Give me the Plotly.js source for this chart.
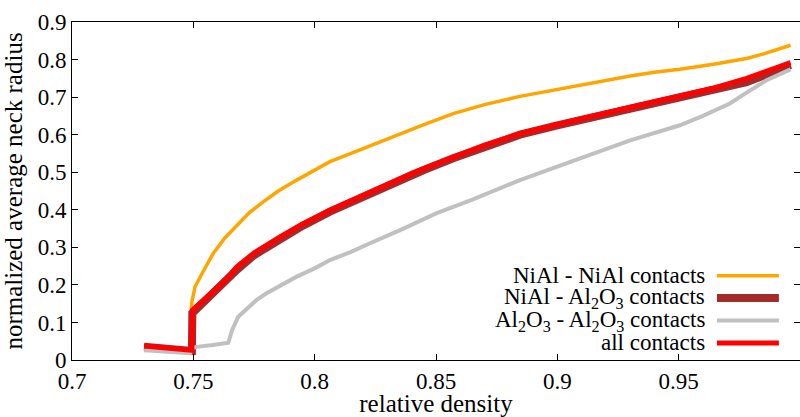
<!DOCTYPE html>
<html>
<head>
<meta charset="utf-8">
<script src="https://cdn.plot.ly/plotly-3.0.1.min.js"></script>
<style>
html,body{margin:0;padding:0;background:#fff;font-family:'Liberation Serif'}
#chart{width:800px;height:417px;font-family:'Liberation Serif'}
#chart text{font-family:'Liberation Serif' !important}
#fl{position:absolute;left:300px;top:200px;font-family:'Liberation Serif';font-size:22px;color:#fff}
</style>
</head>
<body>
<div id="fl">.</div>
<div id="chart"></div>
<script>
// NiAl - NiAl contacts
const nianiX = [0.7297,0.7385,0.7479,0.7488,0.7493,0.7507,0.7540,0.7582,0.7630,0.7679,0.7730,0.7788,0.7850,0.7926,0.8000,0.8063,0.8150,0.8228,0.8300,0.8400,0.8450,0.8571,0.8700,0.8846,0.9000,0.9134,0.9300,0.9400,0.9505,0.9650,0.9780,0.9850,0.9961];
const nianiY = [0.036,0.031,0.028,0.030,0.151,0.195,0.235,0.284,0.325,0.359,0.392,0.421,0.450,0.479,0.505,0.528,0.550,0.570,0.588,0.615,0.627,0.656,0.680,0.702,0.721,0.737,0.756,0.766,0.774,0.788,0.803,0.815,0.838];
// NiAl - Al2O3 contacts
const nialoX = [0.7297,0.7400,0.7479,0.7494,0.7496,0.7527,0.7582,0.7630,0.7679,0.7750,0.7857,0.7950,0.8063,0.8150,0.8228,0.8300,0.8400,0.8450,0.8571,0.8700,0.8846,0.9000,0.9134,0.9300,0.9400,0.9505,0.9650,0.9780,0.9850,0.9961];
const nialoY = [0.035,0.030,0.025,0.024,0.125,0.145,0.175,0.205,0.240,0.279,0.322,0.357,0.395,0.421,0.444,0.464,0.493,0.506,0.537,0.569,0.600,0.625,0.645,0.670,0.685,0.698,0.718,0.740,0.757,0.786];
// Al2O3 - Al2O3 contacts
const aloaloX = [0.7297,0.7400,0.7487,0.7500,0.7514,0.7580,0.7644,0.7660,0.7685,0.7761,0.7800,0.7926,0.8000,0.8063,0.8150,0.8228,0.8350,0.8503,0.8650,0.8846,0.9000,0.9134,0.9300,0.9400,0.9505,0.9600,0.9711,0.9780,0.9862,0.9961];
const aloaloY = [0.026,0.022,0.018,0.033,0.035,0.040,0.046,0.080,0.115,0.160,0.177,0.222,0.244,0.266,0.288,0.311,0.345,0.391,0.427,0.479,0.516,0.546,0.585,0.604,0.625,0.650,0.683,0.712,0.745,0.774];
// all contacts
const allX = [0.7297,0.7400,0.7479,0.7494,0.7496,0.7527,0.7582,0.7630,0.7679,0.7750,0.7857,0.7950,0.8063,0.8150,0.8228,0.8300,0.8400,0.8450,0.8571,0.8700,0.8846,0.9000,0.9134,0.9300,0.9400,0.9505,0.9650,0.9780,0.9850,0.9961];
const allY = [0.037,0.032,0.027,0.026,0.133,0.151,0.182,0.210,0.248,0.285,0.328,0.362,0.399,0.425,0.448,0.468,0.497,0.510,0.541,0.572,0.603,0.628,0.648,0.673,0.688,0.703,0.725,0.750,0.765,0.792];

const legendLabels = ["NiAl - NiAl contacts", "NiAl - Al<sub>2</sub>O<sub>3</sub> contacts", "Al<sub>2</sub>O<sub>3</sub> - Al<sub>2</sub>O<sub>3</sub> contacts", "all contacts"];
const xTicks = [0.7, 0.75, 0.8, 0.85, 0.9, 0.95];
const yTicks = [0, 0.1, 0.2, 0.3, 0.4, 0.5, 0.6, 0.7, 0.8, 0.9];

const colors = ["#ffa500", "#a52a2a", "#c0c0c0", "#ff0000"];
const widths = [3.5, 8, 4, 5];
const xs = [nianiX, nialoX, aloaloX, allX];
const ys = [nianiY, nialoY, aloaloY, allY];

const traces = xs.map((x, i) => ({
  x: x, y: ys[i], type: 'scatter', mode: 'lines', name: legendLabels[i],
  line: {color: colors[i], width: widths[i]}, showlegend: false
}));

const rowY = [0.2494, 0.1831, 0.1168, 0.0505];
const annotations = legendLabels.map((t, i) => ({
  xref: 'paper', yref: 'paper', x: 0.8723, y: rowY[i], xanchor: 'right', yanchor: 'middle',
  text: t, showarrow: false, font: {family: 'Liberation Serif', size: 23, color: '#000'}, align: 'right'
}));
const shapes = legendLabels.map((t, i) => ({
  type: 'line', xref: 'paper', yref: 'paper', x0: 0.886, x1: 0.971, y0: rowY[i], y1: rowY[i],
  line: {color: colors[i], width: widths[i]}
}));

const layout = {
  width: 800, height: 417,
  margin: {l: 72, r: 0, t: 22, b: 57},
  font: {family: 'Liberation Serif', size: 23, color: '#000'},
  xaxis: {showline: true, linecolor: '#000', linewidth: 1, mirror: 'ticks', ticks: 'inside', ticklen: 6,
    tickcolor: '#000', showgrid: false, zeroline: false,
    tickfont: {family: 'Liberation Serif', size: 23, color: '#000'},
    range: [0.7, 1.0], tickvals: xTicks, ticktext: xTicks.map(String),
    title: {text: 'relative density', font: {family: 'Liberation Serif', size: 25, color: '#000'}, standoff: 4}},
  yaxis: {showline: true, linecolor: '#000', linewidth: 1, mirror: 'ticks', ticks: 'inside', ticklen: 6,
    tickcolor: '#000', showgrid: false, zeroline: false,
    tickfont: {family: 'Liberation Serif', size: 23, color: '#000'},
    range: [0, 0.9], tickvals: yTicks, ticktext: yTicks.map(String),
    title: {text: 'normalized average neck radius', font: {family: 'Liberation Serif', size: 25, color: '#000'}, standoff: 8}},
  annotations: annotations,
  shapes: shapes
};

Plotly.newPlot('chart', traces, layout, {displayModeBar: false});
</script>
</body>
</html>
